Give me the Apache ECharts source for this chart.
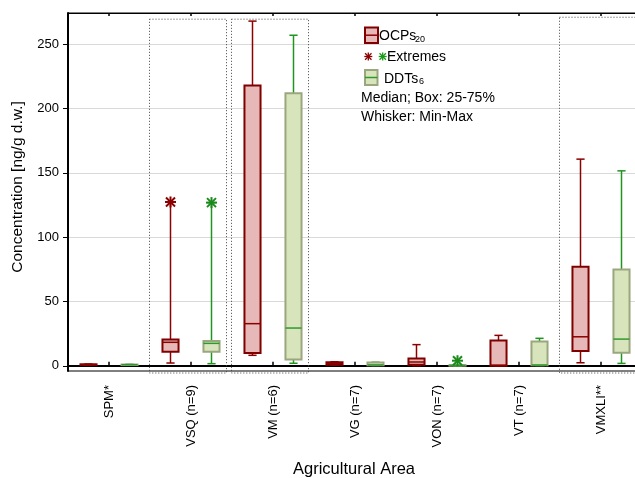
<!DOCTYPE html>
<html>
<head>
<meta charset="utf-8">
<script src="https://cdn.jsdelivr.net/npm/echarts@6/dist/echarts.min.js"></script>
<style>
html,body{margin:0;padding:0;background:#fff;}
#chart{width:635px;height:478px;}
</style>
</head>
<body>
<div id="chart"></div>
<script>
// ---------- data ----------
const categories = ['SPM*', 'VSQ (n=9)', 'VM (n=6)', 'VG (n=7)', 'VON (n=7)', 'VT (n=7)', 'VMXLI**'];
// [min, q1, median, q3, max]
const ocpStats = [
  [0.6, 0.8, 1.0, 1.2, 1.4],
  [2.2, 11, 18.3, 20.4, 127.4],
  [8.2, 10, 32.8, 218, 268],
  [0.6, 0.9, 1.8, 2.8, 3.2],
  [0.1, 0.9, 3.0, 5.8, 16.5],
  [0.0, 0.1, 0.5, 19.8, 23.7],
  [2.4, 11.5, 22.6, 77, 160.7]
];
const ddtStats = [
  [0.5, 0.7, 0.9, 1.0, 1.2],
  [1.7, 11, 17.5, 19.3, 126.9],
  [2.0, 5.0, 29.4, 212, 257],
  [0.3, 0.5, 0.7, 2.6, 2.8],
  [0.0, 0.2, 0.3, 0.6, 0.8],
  [0.3, 0.4, 0.6, 19.0, 21.4],
  [1.9, 10.2, 20.8, 75, 151.6]
];
// extremes: [category index, value]
const ocpExtremes = [[1, 127.4]];
const ddtExtremes = [[1, 126.9], [4, 4.0]];
// highlighted (dotted) groups: [category index, top value, bottom value]
const highlightGroups = [[1, 269.5, -4], [2, 269.5, -4], [6, 271, -4]];
const yTickValues = [0, 50, 100, 150, 200, 250];
const yMin = -4, yMax = 274.3;

// ---------- styles ----------
const FONT = 'Arial, "Liberation Sans", sans-serif';
const OCP = {fill: '#e6b8b7', border: '#800000', median: '#8b0000', whisker: '#8b0000'};
const DDT = {fill: '#d8e4bc', border: '#9aa67e', median: '#2e9a2e', whisker: '#1f951f'};

function boxRenderer(offsetFrac, st) {
  return function (params, api) {
    const x = api.value(0);
    const band = api.size([1, 0])[0];
    const cx = api.coord([x, 0])[0] + offsetFrac * band;
    const yy = i => api.coord([x, api.value(i)])[1];
    const yMinP = yy(1), yQ1 = yy(2), yMed = yy(3), yQ3 = yy(4), yMaxP = yy(5);
    const hw = band * 0.098, cap = band * 0.05;
    const lw = {stroke: st.whisker, lineWidth: 1.5};
    return {
      type: 'group',
      children: [
        {type: 'line', shape: {x1: cx, y1: yMaxP, x2: cx, y2: yQ3}, style: lw},
        {type: 'line', shape: {x1: cx, y1: yQ1, x2: cx, y2: yMinP}, style: lw},
        {type: 'line', shape: {x1: cx - cap, y1: yMaxP, x2: cx + cap, y2: yMaxP}, style: lw},
        {type: 'line', shape: {x1: cx - cap, y1: yMinP, x2: cx + cap, y2: yMinP}, style: lw},
        {type: 'rect', shape: {x: cx - hw, y: yQ3, width: 2 * hw, height: Math.max(yQ1 - yQ3, 0.5)},
          style: {fill: st.fill, stroke: st.border, lineWidth: 2}},
        {type: 'line', shape: {x1: cx - hw, y1: yMed, x2: cx + hw, y2: yMed},
          style: {stroke: st.median, lineWidth: 1.5}}
      ]
    };
  };
}

function starRenderer(offsetFrac, color) {
  return function (params, api) {
    const x = api.value(0);
    const band = api.size([1, 0])[0];
    const p = api.coord([x, api.value(1)]);
    const cx = p[0] + offsetFrac * band, cy = p[1];
    const r = 5.5, d = 4.5;
    const s = {stroke: color, lineWidth: 2};
    return {
      type: 'group',
      children: [
        {type: 'line', shape: {x1: cx - r, y1: cy, x2: cx + r, y2: cy}, style: s},
        {type: 'line', shape: {x1: cx, y1: cy - r, x2: cx, y2: cy + r}, style: s},
        {type: 'line', shape: {x1: cx - d, y1: cy - d, x2: cx + d, y2: cy + d}, style: s},
        {type: 'line', shape: {x1: cx - d, y1: cy + d, x2: cx + d, y2: cy - d}, style: s}
      ]
    };
  };
}

function groupRenderer(params, api) {
  const x = api.value(0);
  const band = api.size([1, 0])[0];
  const c = api.coord([x, 0])[0];
  const top = api.coord([x, api.value(1)])[1];
  const bottom = api.coord([x, api.value(2)])[1] + 2;
  const left = c - band / 2 - 0.5, right = c + band / 2 - 5.5;
  return {
    type: 'rect',
    shape: {x: left, y: top, width: right - left, height: bottom - top},
    style: {fill: 'none', stroke: '#444', lineWidth: 1, lineDash: [1, 2]},
    z2: 0
  };
}

const chart = echarts.init(document.getElementById('chart'), null, {renderer: 'canvas'});

const legendGraphics = [
  {type: 'rect', shape: {x: 365, y: 27.5, width: 13, height: 15.5}, style: {fill: OCP.fill, stroke: OCP.border, lineWidth: 2}},
  {type: 'line', shape: {x1: 365, y1: 35.2, x2: 378, y2: 35.2}, style: {stroke: OCP.median, lineWidth: 1.5}},
  {type: 'text', x: 379, y: 36.5, style: {text: 'OCPs', font: '14px ' + FONT, fill: '#000', verticalAlign: 'middle', align: 'left'}},
  {type: 'text', x: 415, y: 40, style: {text: '20', font: '9px ' + FONT, fill: '#000', verticalAlign: 'middle', align: 'left'}},
  {type: 'text', x: 387, y: 57, style: {text: 'Extremes', font: '14px ' + FONT, fill: '#000', verticalAlign: 'middle', align: 'left'}},
  {type: 'rect', shape: {x: 365, y: 70, width: 12.5, height: 15}, style: {fill: DDT.fill, stroke: DDT.border, lineWidth: 2}},
  {type: 'line', shape: {x1: 365, y1: 77.5, x2: 377.5, y2: 77.5}, style: {stroke: DDT.median, lineWidth: 1.5}},
  {type: 'text', x: 384, y: 79.5, style: {text: 'DDTs', font: '14px ' + FONT, fill: '#000', verticalAlign: 'middle', align: 'left'}},
  {type: 'text', x: 419, y: 82, style: {text: '6', font: '9px ' + FONT, fill: '#000', verticalAlign: 'middle', align: 'left'}},
  {type: 'text', x: 361, y: 98, style: {text: 'Median; Box: 25-75%', font: '14px ' + FONT, fill: '#000', verticalAlign: 'middle', align: 'left'}},
  {type: 'text', x: 361, y: 117, style: {text: 'Whisker: Min-Max', font: '14px ' + FONT, fill: '#000', verticalAlign: 'middle', align: 'left'}},
  {type: 'text', x: 17.5, y: 187, rotation: Math.PI / 2,
    style: {text: 'Concentration [ng/g d.w.]', font: '15.5px ' + FONT, fill: '#000', align: 'center', verticalAlign: 'middle'}},
  {type: 'text', x: 354, y: 469,
    style: {text: 'Agricultural Area', font: '16.5px ' + FONT, fill: '#000', align: 'center', verticalAlign: 'middle'}}
];
// legend asterisks
[[368.3, '#8b0000'], [382.7, '#1a9a1a']].forEach(([cx, col]) => {
  const cy = 56.5, r = 4, d = 3.2;
  [[cx - r, cy, cx + r, cy], [cx, cy - r, cx, cy + r], [cx - d, cy - d, cx + d, cy + d], [cx - d, cy + d, cx + d, cy - d]]
    .forEach(s => legendGraphics.push({type: 'line', shape: {x1: s[0], y1: s[1], x2: s[2], y2: s[3]}, style: {stroke: col, lineWidth: 1.3}}));
});

const option = {
  animation: false,
  backgroundColor: '#fff',
  textStyle: {fontFamily: FONT},
  grid: {left: 68, top: 13, width: 574, height: 358, show: true, borderColor: '#000', borderWidth: 1,
    containLabel: false, outerBoundsMode: 'none'},
  xAxis: [
    {
      type: 'category', data: categories, position: 'bottom', boundaryGap: true,
      axisLine: {show: true, lineStyle: {color: '#000', width: 2}},
      axisTick: {show: true, alignWithLabel: true, inside: true, length: 4, lineStyle: {color: '#000', width: 1.5}},
      axisLabel: {rotate: 90, fontSize: 13, color: '#000', margin: 14, fontFamily: FONT},
      splitLine: {show: false}
    },
    {
      type: 'category', data: categories, position: 'top', boundaryGap: true,
      axisLine: {show: true, lineStyle: {color: '#000', width: 1}},
      axisTick: {show: true, alignWithLabel: true, inside: true, length: 3, lineStyle: {color: '#000', width: 1.5}},
      axisLabel: {show: false},
      splitLine: {show: false}
    }
  ],
  yAxis: {
    type: 'value', min: yMin, max: yMax, interval: 50,
    axisLine: {show: true, lineStyle: {color: '#000', width: 2}},
    axisTick: {show: true, inside: false, length: 5, lineStyle: {color: '#000'}, customValues: yTickValues},
    axisLabel: {fontSize: 13, color: '#000', margin: 9, fontFamily: FONT, customValues: yTickValues,
      formatter: v => (yTickValues.indexOf(v) >= 0 ? String(v) : '')},
    splitLine: {show: true, lineStyle: {color: '#d9d9d9', width: 1}}
  },
  graphic: legendGraphics,
  series: [
    {
      type: 'custom', name: 'groups', renderItem: groupRenderer, data: highlightGroups,
      encode: {x: 0, y: [1, 2]}, z: 1, silent: true
    },
    {
      type: 'custom', name: 'OCPs20', renderItem: boxRenderer(-0.25, OCP),
      data: ocpStats.map((s, i) => [i].concat(s)), encode: {x: 0, y: [1, 2, 3, 4, 5]}, z: 3
    },
    {
      type: 'custom', name: 'DDTs6', renderItem: boxRenderer(0.25, DDT),
      data: ddtStats.map((s, i) => [i].concat(s)), encode: {x: 0, y: [1, 2, 3, 4, 5]}, z: 3
    },
    {
      type: 'custom', name: 'OCP extremes', renderItem: starRenderer(-0.25, '#8b0000'),
      data: ocpExtremes, encode: {x: 0, y: 1}, z: 4
    },
    {
      type: 'custom', name: 'DDT extremes', renderItem: starRenderer(0.25, '#1a8a1a'),
      data: ddtExtremes, encode: {x: 0, y: 1}, z: 4
    }
  ]
};
chart.setOption(option);
</script>
</body>
</html>
